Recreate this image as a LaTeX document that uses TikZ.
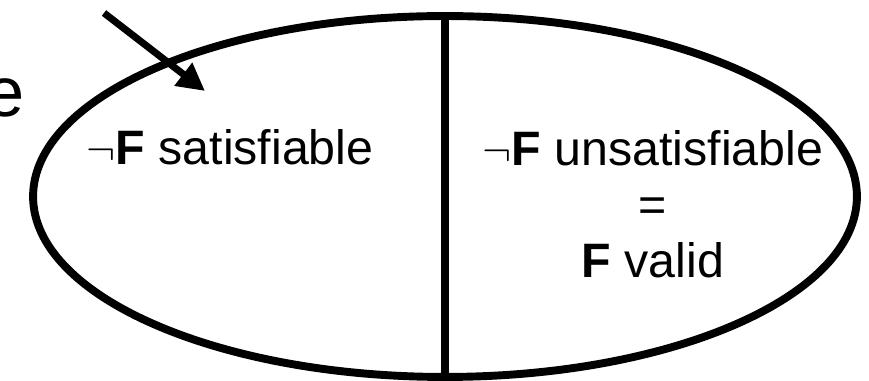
\documentclass[tikz,border=0pt]{standalone}
\usepackage{fontspec}
\setmainfont{Liberation Sans}
\usetikzlibrary{shapes.geometric,arrows.meta}

\tikzset{
  label text/.style={font=\fontsize{27.5}{32}\selectfont, inner sep=0pt},
}

\begin{document}
\begin{tikzpicture}[x=0.02cm, y=-0.02cm]
                \useasboundingbox (0,0) rectangle (869,381);
                % Nodes
                \node[ellipse, draw, line width=4.5pt, inner sep=0pt, outer sep=0pt,
                      minimum width=16.48cm, minimum height=7.22cm] (set) at (445,196.5) {};
                \node[label text, anchor=base] (sat) at (230,165) {$\neg$\textbf{F} satisfiable};
                \node[label text, anchor=base, align=center] (unsat) at (653,278)
                      {$\neg$\textbf{F} unsatisfiable\\=\\\textbf{F} valid};
                \node[font=\fontsize{40}{48}\selectfont, inner sep=0pt, anchor=base east] (word) at (25,117) {e};
                \coordinate (tail) at (104,13);
                \coordinate (tip) at (205,91);
                % Edges
                \draw[line width=4.5pt] (set.north) -- (set.south);
                \draw[line width=4pt, -{Triangle[length=0.55cm, width=0.55cm]}] (tail) -- (tip);
            \end{tikzpicture}
\end{document}
